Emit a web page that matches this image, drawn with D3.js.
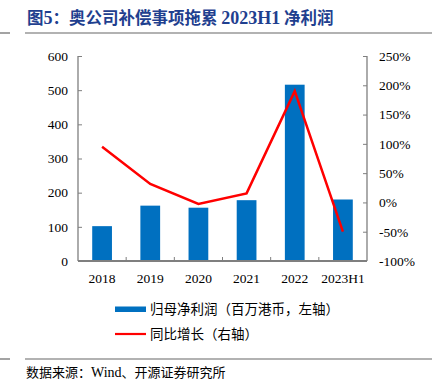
<!DOCTYPE html>
<html><head><meta charset="utf-8">
<script src="https://cdn.jsdelivr.net/npm/d3@7"></script>
<style>body{margin:0;background:#fff}svg{display:block}</style>
</head><body>
<script>
const categories = ["2018","2019","2020","2021","2022","2023H1"];
const profit = [102, 162, 156, 178, 516, 180];
const growth = [95, 31.5, -2.5, 15.5, 190, -50];
const leftTicks = [0,100,200,300,400,500,600];
const rightTicks = [-100,-50,0,50,100,150,200,250];
const titleParts = [["图", 0], ["5", 1], ["：奥公司补偿事项拖累 ", 0], ["2023H1", 1], [" 净利润", 0]];
const legendBar = "归母净利润（百万港币，左轴）";
const legendLine = "同比增长（右轴）";
const sourceParts = [["数据来源：", 0], ["Wind", 1], ["、开源证券研究所", 0]];

const W = 432, H = 382;
const svg = d3.select("body").append("svg").attr("width", W).attr("height", H);
const serif = "'Liberation Serif','Times New Roman',serif";
const cjk = "'Noto Sans CJK SC',sans-serif";

const x = d3.scaleBand().domain(categories).range([78, 367]).paddingInner(0.59).paddingOuter(0.295);
const xb = d3.scaleBand().domain(categories).range([78, 367]);
const yL = d3.scaleLinear().domain([0, 600]).range([261, 56]);
const yR = d3.scaleLinear().domain([-100, 250]).range([261, 56]);

// title
const t = svg.append("text").attr("x", 27).attr("y", 24).attr("font-weight", "bold")
  .attr("font-size", 16.5).attr("fill", "#1f3f8f");
titleParts.forEach(([s, f]) => t.append("tspan").attr("font-family", f ? serif : cjk)
  .attr("font-size", f ? 18 : 16.5).text(s));
svg.append("line").attr("x1", 25).attr("x2", 432).attr("y1", 33).attr("y2", 33).attr("stroke", "#666").attr("stroke-width", 1.2);
svg.append("line").attr("x1", 0).attr("x2", 10).attr("y1", 33).attr("y2", 33).attr("stroke", "#666").attr("stroke-width", 1.2);

// bars
svg.append("g").selectAll("rect").data(categories).join("rect")
  .attr("x", d => x(d)).attr("width", x.bandwidth())
  .attr("y", (d, i) => yL(profit[i])).attr("height", (d, i) => yL(0) - yL(profit[i]))
  .attr("fill", "#0070c0");

// axes
const axisColor = "#7f7f7f";
const gL = svg.append("g").attr("transform", "translate(78,0)")
  .call(d3.axisLeft(yL).tickValues(leftTicks).tickSize(-4).tickPadding(10));
const gR = svg.append("g").attr("transform", "translate(367,0)")
  .call(d3.axisRight(yR).tickValues(rightTicks).tickSize(-4).tickPadding(12).tickFormat(d => d + "%"));
const gX = svg.append("g").attr("transform", "translate(0,261)")
  .call(d3.axisBottom(xb).tickSize(0).tickPadding(12));
svg.append("g").selectAll("line").data(categories.slice(1)).join("line")
  .attr("x1", d => xb(d)).attr("x2", d => xb(d)).attr("y1", 261).attr("y2", 257)
  .attr("stroke", axisColor).attr("stroke-width", 1);
[gL, gR, gX].forEach(g => {
  g.select(".domain").attr("stroke", axisColor).attr("stroke-width", 1.3);
  g.selectAll(".tick line").attr("stroke", axisColor);
  g.selectAll("text").attr("font-family", serif).attr("font-size", 13.5).attr("fill", "#000");
});
gL.select(".domain").attr("d", "M0,56V261");
gR.select(".domain").attr("d", "M0,56V261");
gX.select(".domain").attr("d", "M78,0H367").attr("stroke-width", 1.8);

// line
const line = d3.line().x((d, i) => xb(categories[i]) + xb.bandwidth() / 2).y(d => yR(d));
svg.append("path").datum(growth).attr("d", line).attr("fill", "none")
  .attr("stroke", "#ff0000").attr("stroke-width", 2.5).attr("stroke-linejoin", "miter");

// legend
svg.append("rect").attr("x", 115).attr("y", 306.5).attr("width", 31).attr("height", 5.5).attr("fill", "#0070c0");
svg.append("text").attr("x", 150).attr("y", 314).attr("font-family", cjk).attr("font-size", 13.5).attr("fill", "#000").text(legendBar);
svg.append("line").attr("x1", 115).attr("x2", 146).attr("y1", 334).attr("y2", 334).attr("stroke", "#ff0000").attr("stroke-width", 2.2);
svg.append("text").attr("x", 150).attr("y", 339).attr("font-family", cjk).attr("font-size", 13.5).attr("fill", "#000").text(legendLine);

// footer
svg.append("line").attr("x1", 25).attr("x2", 432).attr("y1", 359).attr("y2", 359).attr("stroke", "#666").attr("stroke-width", 1.2);
svg.append("line").attr("x1", 0).attr("x2", 10).attr("y1", 359).attr("y2", 359).attr("stroke", "#666").attr("stroke-width", 1.2);
const s = svg.append("text").attr("x", 26).attr("y", 377).attr("font-size", 13).attr("fill", "#000");
sourceParts.forEach(([p, f]) => s.append("tspan").attr("font-family", f ? serif : cjk)
  .attr("font-size", f ? 14 : 13).text(p));
</script>
</body></html>
